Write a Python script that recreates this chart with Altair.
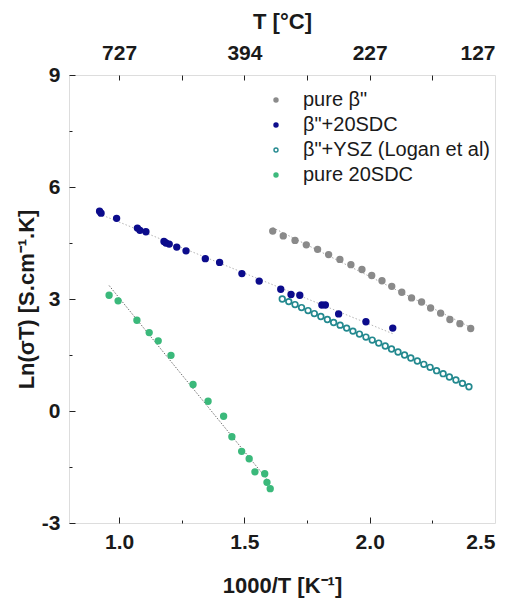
import altair as alt
import pandas as pd

# ---------------- data ----------------
series_names = ['pure β"', 'β"+20SDC', 'β"+YSZ (Logan et al)', 'pure 20SDC']

grey_x = [1.613, 1.655, 1.702, 1.747, 1.792, 1.836, 1.881, 1.925, 1.969, 2.008,
          2.049, 2.088, 2.128, 2.167, 2.207, 2.243, 2.283, 2.320, 2.360, 2.403]
grey_y = [4.82, 4.69, 4.57, 4.45, 4.33, 4.19, 4.06, 3.92, 3.79, 3.63,
          3.49, 3.34, 3.18, 3.03, 2.92, 2.76, 2.62, 2.45, 2.34, 2.21]

blue_x = [0.922, 0.928, 0.990, 1.073, 1.083, 1.107, 1.179, 1.187, 1.200, 1.230,
          1.267, 1.344, 1.401, 1.490, 1.559, 1.645, 1.686, 1.721, 1.809, 1.823,
          1.876, 1.985, 2.092]
blue_y = [5.35, 5.30, 5.16, 4.90, 4.84, 4.80, 4.54, 4.50, 4.47, 4.39,
          4.29, 4.08, 3.98, 3.68, 3.48, 3.26, 3.12, 3.10, 2.84, 2.84,
          2.60, 2.39, 2.22]

teal_x = [1.651, 1.677, 1.702, 1.728, 1.754, 1.779, 1.805, 1.831, 1.856, 1.882,
          1.908, 1.933, 1.959, 1.985, 2.010, 2.036, 2.062, 2.087, 2.113, 2.139,
          2.164, 2.190, 2.216, 2.241, 2.267, 2.293, 2.318, 2.344, 2.370, 2.396]
teal_y = [3.00, 2.93, 2.85, 2.77, 2.69, 2.61, 2.53, 2.45, 2.37, 2.30,
          2.22, 2.14, 2.06, 1.98, 1.90, 1.82, 1.74, 1.66, 1.58, 1.50,
          1.42, 1.34, 1.25, 1.17, 1.08, 1.00, 0.91, 0.83, 0.74, 0.65]

green_x = [0.960, 0.996, 1.071, 1.120, 1.156, 1.207, 1.295, 1.355, 1.417, 1.450,
           1.489, 1.519, 1.542, 1.581, 1.590, 1.603]
green_y = [3.10, 2.95, 2.43, 2.10, 1.88, 1.49, 0.71, 0.26, -0.14, -0.69,
           -1.08, -1.28, -1.63, -1.68, -1.91, -2.08]

fill_colors = ["#8a8a8a", "#0c0c8c", "#ffffff", "#3bb97b"]
stroke_colors = ["#8a8a8a", "#0c0c8c", "#23898f", "#3bb97b"]

x_label_values = [1.0, 1.5, 2.0, 2.5]
x_major_values = [1.0, 1.5, 2.0]
x_minor_values = [1.25, 1.75, 2.25]
top_tick_values = [1.0, 1.5, 2.0, 2.5]
top_tick_labels = ["727", "394", "227", "127"]
top_all_ticks = [1.0, 1.25, 1.5, 1.75, 2.0, 2.25]
y_major_values = [-3, 0, 3, 6, 9]
y_minor_values = [-1.5, 1.5, 4.5, 7.5]

# ---------------- table ----------------
rows = []
for name, xs, ys in zip(series_names, [grey_x, blue_x, teal_x, green_x],
                        [grey_y, blue_y, teal_y, green_y]):
    for a, b in zip(xs, ys):
        rows.append({"x": a, "y": b, "series": name})
df = pd.DataFrame(rows)

FONT = "Liberation Sans"
xscale = alt.Scale(domain=[0.8, 2.5], nice=False, zero=False)
yscale = alt.Scale(domain=[-3, 9], nice=False, zero=False)

common = dict(grid=False, domain=False, labelFont=FONT, labelFontWeight="bold",
              labelFontSize=21, labelColor="#1a1a1a", titleFont=FONT,
              titleFontWeight="bold", titleFontSize=22, titleColor="#1a1a1a")

x_bottom_labels = alt.Axis(orient="bottom", values=x_label_values, format=".1f",
                           ticks=False, labelPadding=8, title="1000/T [K\u207b\u00b9]",
                           titlePadding=23, **common)
x_bottom_major = alt.Axis(orient="bottom", values=x_major_values, labels=False,
                          ticks=True, tickSize=6, offset=-6, tickColor="#222",
                          title=None, **common)
x_bottom_minor = alt.Axis(orient="bottom", values=x_minor_values, labels=False,
                          ticks=True, tickSize=3, offset=-3, tickColor="#222",
                          title=None, **common)
top_expr = " : ".join(f"datum.value == {v} ? '{l}'"
                      for v, l in zip(top_tick_values, top_tick_labels)) + " : ''"
x_top_labels = alt.Axis(orient="top", values=top_tick_values, labelExpr=top_expr,
                        ticks=False, labelPadding=12, title="T [°C]",
                        titlePadding=9, **common)
x_top_ticks = alt.Axis(orient="top", values=top_all_ticks, labels=False,
                       ticks=True, tickSize=5, offset=-5, tickColor="#222",
                       title=None, **common)
y_expr = "datum.value < 0 ? '-' + format(-datum.value, 'd') : format(datum.value, 'd')"
y_labels = alt.Axis(orient="left", values=y_major_values, labelExpr=y_expr,
                    ticks=False, labelPadding=9, title="Ln(σT) [S.cm\u207b\u00b9.K]",
                    titlePadding=3, **common)
y_major = alt.Axis(orient="left", values=y_major_values, labels=False, ticks=True,
                   tickSize=6, offset=-6, tickColor="#222", title=None, **common)
y_minor = alt.Axis(orient="left", values=y_minor_values, labels=False, ticks=True,
                   tickSize=3, offset=-3, tickColor="#222", title=None, **common)

base = alt.Chart()

grey_line = base.transform_filter(alt.datum.series == series_names[0]).transform_regression(
    "x", "y").mark_line(color="#a8a8a8", strokeWidth=1, strokeDash=[1.5, 2]).encode(
    x=alt.X("x:Q", scale=xscale, axis=x_bottom_major),
    y=alt.Y("y:Q", scale=yscale, axis=y_major))

blue_line = base.transform_filter(alt.datum.series == series_names[1]).transform_regression(
    "x", "y").mark_line(color="#b5b5b5", strokeWidth=1, strokeDash=[1.5, 2]).encode(
    x=alt.X("x:Q", scale=xscale, axis=x_bottom_minor),
    y=alt.Y("y:Q", scale=yscale, axis=y_minor))

green_line = base.transform_filter(alt.datum.series == series_names[3]).transform_regression(
    "x", "y").mark_line(color="#707070", strokeWidth=1, strokeDash=[1.5, 1.5]).encode(
    x=alt.X("x:Q", scale=xscale, axis=x_top_labels),
    y=alt.Y("y:Q", scale=yscale, axis=None))

teal_line = base.transform_filter(alt.datum.series == series_names[2]).mark_line(
    color="#333333", strokeWidth=1).encode(
    x=alt.X("x:Q", scale=xscale, axis=x_top_ticks),
    y=alt.Y("y:Q", scale=yscale, axis=None),
    order="x:Q")

legend = alt.Legend(orient="none", legendX=197, legendY=15, title=None,
                    labelFont=FONT, labelFontSize=20, labelColor="#1a1a1a",
                    labelLimit=400, symbolSize=16, symbolStrokeWidth=1.4,
                    rowPadding=5, labelOffset=17, padding=0)

points = base.mark_point(shape="circle", size=32, strokeWidth=1.7, opacity=1).encode(
    x=alt.X("x:Q", scale=xscale, axis=x_bottom_labels),
    y=alt.Y("y:Q", scale=yscale, axis=y_labels),
    fill=alt.Fill("series:N", scale=alt.Scale(domain=series_names, range=fill_colors),
                  legend=legend, sort=series_names),
    stroke=alt.Stroke("series:N", scale=alt.Scale(domain=series_names, range=stroke_colors),
                      legend=legend, sort=series_names),
)

chart = alt.layer(grey_line, blue_line, green_line, teal_line, points, data=df).resolve_axis(
    x="independent", y="independent").properties(
    width=426, height=448,
    padding={"left": 61, "top": 67, "right": 12, "bottom": 75},
    autosize=alt.AutoSizeParams(type="none"),
).configure_view(stroke="#222222", strokeWidth=1.2).configure(background="white")

chart.save("out.html", embed_options={"renderer": "svg", "actions": False})
